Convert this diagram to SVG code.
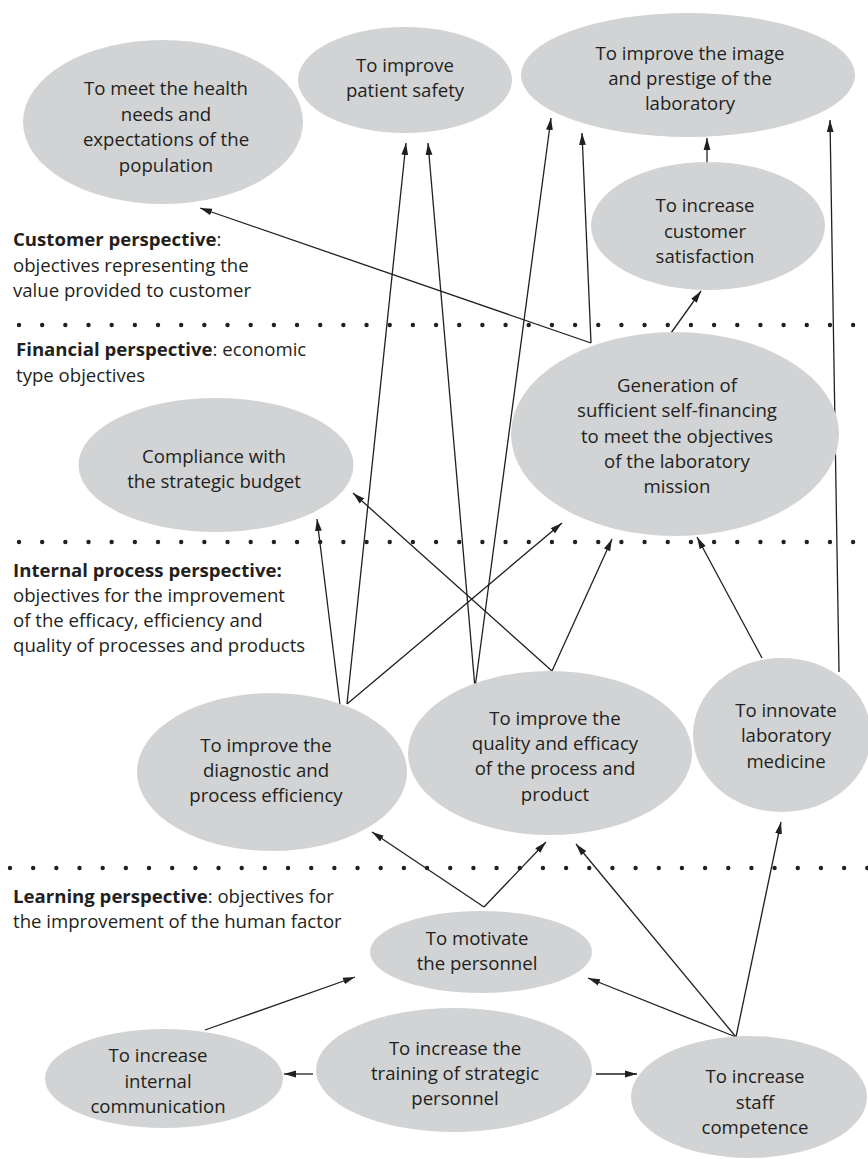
<svg xmlns="http://www.w3.org/2000/svg" width="868" height="1159" viewBox="0 0 868 1159">
<defs>
<style>
.n{fill:#d1d3d4;stroke:none}
.t{font-family:"Open Sans","Noto Sans","Liberation Sans",sans-serif;font-size:18.6px;fill:#231f20;text-anchor:middle}
.l{font-family:"Open Sans","Noto Sans","Liberation Sans",sans-serif;font-size:18.6px;fill:#231f20}
.b{font-weight:700}
.c{stroke:#231f20;stroke-width:1.3;fill:none;marker-end:url(#ah)}
.p{stroke:#231f20;stroke-width:1.3;fill:none}
.d{stroke:#231f20;stroke-width:4.4;stroke-linecap:round;stroke-dasharray:0 23.17;fill:none}
</style>
<marker id="ah" markerUnits="userSpaceOnUse" markerWidth="14" markerHeight="10" refX="12" refY="4" orient="auto">
<path d="M0,0.6 L12,4 L0,7.4 z" fill="#231f20"/>
</marker>
</defs>
<rect width="868" height="1159" fill="#ffffff"/>

<g id="separators">
<line class="d" x1="19" y1="325" x2="860" y2="325"/>
<line class="d" x1="19" y1="542" x2="860" y2="542"/>
<line class="d" x1="10" y1="868" x2="868" y2="868"/>
</g>

<g id="labels">
<text class="l" x="13"><tspan x="13" y="246"><tspan class="b">Customer perspective</tspan>:</tspan><tspan x="13" y="271.5">objectives representing the</tspan><tspan x="13" y="297">value provided to customer</tspan></text>
<text class="l"><tspan x="16" y="356"><tspan class="b">Financial perspective</tspan>: economic</tspan><tspan x="16" y="381.5">type objectives</tspan></text>
<text class="l"><tspan x="13" y="577" class="b">Internal process perspective:</tspan><tspan x="13" y="602">objectives for the improvement</tspan><tspan x="13" y="627">of the efficacy, efficiency and</tspan><tspan x="13" y="652">quality of processes and products</tspan></text>
<text class="l"><tspan x="13" y="903"><tspan class="b">Learning perspective</tspan>: objectives for</tspan><tspan x="13" y="928">the improvement of the human factor</tspan></text>
</g>

<g id="connectors">
<polyline class="c" points="591,343 200,208"/>
<line class="c" x1="591" y1="343" x2="582" y2="133"/>
<line class="c" x1="671" y1="333" x2="701" y2="291"/>
<line class="c" x1="707" y1="166" x2="707" y2="138"/>
<line class="c" x1="475" y1="688" x2="551" y2="118"/>
<line class="c" x1="347" y1="704" x2="406" y2="143"/>
<line class="c" x1="475" y1="688" x2="428" y2="143"/>
<line class="c" x1="839" y1="672" x2="830" y2="120"/>
<line class="c" x1="340" y1="705" x2="317" y2="519"/>
<line class="c" x1="347" y1="704" x2="562" y2="523"/>
<line class="c" x1="552" y1="671" x2="353" y2="493"/>
<line class="c" x1="552" y1="671" x2="612" y2="539"/>
<line class="c" x1="762" y1="658" x2="697" y2="537"/>
<line class="c" x1="484" y1="907" x2="372" y2="832"/>
<line class="c" x1="484" y1="907" x2="546" y2="842"/>
<line class="c" x1="736" y1="1037" x2="576" y2="844"/>
<line class="c" x1="736" y1="1037" x2="781" y2="822"/>
<line class="c" x1="736" y1="1037" x2="588" y2="978"/>
<line class="c" x1="205" y1="1030" x2="355" y2="977"/>
<line class="c" x1="313" y1="1074" x2="284" y2="1074"/>
<line class="c" x1="596" y1="1074" x2="637" y2="1074"/>
</g>

<g id="n-health">
<ellipse class="n" cx="163" cy="122" rx="140" ry="82"/>
<text class="t"><tspan x="166" y="95">To meet the health</tspan><tspan x="166" y="120.5">needs and</tspan><tspan x="166" y="146">expectations of the</tspan><tspan x="166" y="171.5">population</tspan></text>
</g>
<g id="n-safety">
<ellipse class="n" cx="405" cy="80" rx="107" ry="53"/>
<text class="t"><tspan x="405" y="72">To improve</tspan><tspan x="405" y="97">patient safety</tspan></text>
</g>
<g id="n-image">
<ellipse class="n" cx="688" cy="75" rx="167" ry="62"/>
<text class="t"><tspan x="690" y="60">To improve the image</tspan><tspan x="690" y="85">and prestige of the</tspan><tspan x="690" y="110">laboratory</tspan></text>
</g>
<g id="n-satisfaction">
<ellipse class="n" cx="708" cy="226" rx="117" ry="64"/>
<text class="t"><tspan x="705" y="212">To increase</tspan><tspan x="705" y="238">customer</tspan><tspan x="705" y="263">satisfaction</tspan></text>
</g>
<g id="n-compliance">
<ellipse class="n" cx="216" cy="465" rx="137.5" ry="67"/>
<text class="t"><tspan x="214" y="463">Compliance with</tspan><tspan x="214" y="488">the strategic budget</tspan></text>
</g>
<g id="n-generation">
<ellipse class="n" cx="675" cy="434" rx="164" ry="102"/>
<text class="t"><tspan x="677" y="392">Generation of</tspan><tspan x="677" y="417">sufficient self-financing</tspan><tspan x="677" y="443">to meet the objectives</tspan><tspan x="677" y="468">of the laboratory</tspan><tspan x="677" y="493">mission</tspan></text>
</g>
<g id="n-diagnostic">
<ellipse class="n" cx="272" cy="772" rx="135" ry="79"/>
<text class="t"><tspan x="266" y="752">To improve the</tspan><tspan x="266" y="777">diagnostic and</tspan><tspan x="266" y="802">process efficiency</tspan></text>
</g>
<g id="n-quality">
<ellipse class="n" cx="550" cy="753" rx="142" ry="82"/>
<text class="t"><tspan x="555" y="725">To improve the</tspan><tspan x="555" y="750">quality and efficacy</tspan><tspan x="555" y="775">of the process and</tspan><tspan x="555" y="801">product</tspan></text>
</g>
<g id="n-innovate">
<ellipse class="n" cx="782" cy="735" rx="89" ry="77"/>
<text class="t"><tspan x="786" y="717">To innovate</tspan><tspan x="786" y="742">laboratory</tspan><tspan x="786" y="768">medicine</tspan></text>
</g>
<g id="n-motivate">
<ellipse class="n" cx="481" cy="952" rx="111" ry="41"/>
<text class="t"><tspan x="477" y="945">To motivate</tspan><tspan x="477" y="970">the personnel</tspan></text>
</g>
<g id="n-communication">
<ellipse class="n" cx="164" cy="1078.5" rx="119" ry="49.5"/>
<text class="t"><tspan x="158" y="1062">To increase</tspan><tspan x="158" y="1088">internal</tspan><tspan x="158" y="1113">communication</tspan></text>
</g>
<g id="n-training">
<ellipse class="n" cx="454" cy="1070" rx="138" ry="62"/>
<text class="t"><tspan x="455" y="1055">To increase the</tspan><tspan x="455" y="1080">training of strategic</tspan><tspan x="455" y="1105">personnel</tspan></text>
</g>
<g id="n-staff">
<ellipse class="n" cx="749" cy="1097" rx="118" ry="61"/>
<text class="t"><tspan x="755" y="1083">To increase</tspan><tspan x="755" y="1109">staff</tspan><tspan x="755" y="1134">competence</tspan></text>
</g>
</svg>
